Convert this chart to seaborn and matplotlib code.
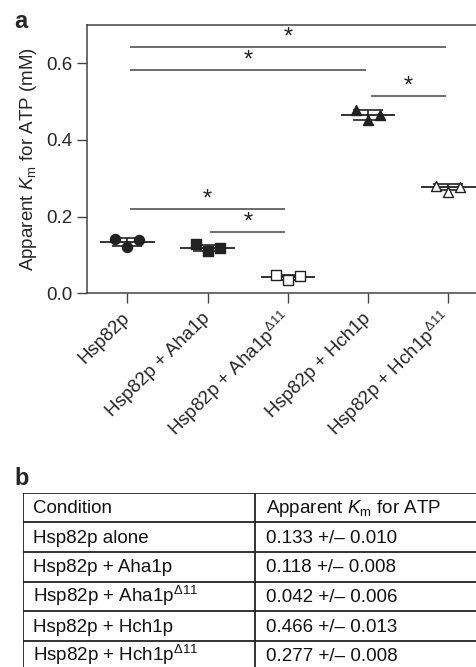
import numpy as np
import pandas as pd
import matplotlib
matplotlib.use("Agg")
import matplotlib.pyplot as plt
import seaborn as sns

# %% data
conditions = [
    "Hsp82p",
    "Hsp82p + Aha1p",
    "Hsp82p + Aha1p$^{\\Delta11}$",
    "Hsp82p + Hch1p",
    "Hsp82p + Hch1p$^{\\Delta11}$",
]
rep1 = [0.141, 0.128, 0.047, 0.478, 0.281]
rep2 = [0.122, 0.111, 0.035, 0.452, 0.265]
rep3 = [0.139, 0.117, 0.045, 0.464, 0.278]
km_mean = [0.133, 0.118, 0.042, 0.466, 0.277]
km_err = [0.010, 0.008, 0.006, 0.013, 0.008]

table_conditions = [
    "Hsp82p alone",
    "Hsp82p + Aha1p",
    "Hsp82p + Aha1p$^{\\Delta11}$",
    "Hsp82p + Hch1p",
    "Hsp82p + Hch1p$^{\\Delta11}$",
]

sig_pairs = [(0, 4), (0, 3), (3, 4), (0, 2), (1, 2)]
sig_heights = [0.642, 0.583, 0.514, 0.220, 0.161]

markers = ["o", "s", "s", "^", "^"]
filled = [True, True, False, True, False]

# %% style
sns.set_style("ticks")
plt.rcParams["font.family"] = ["Liberation Sans", "DejaVu Sans"]
plt.rcParams["mathtext.fontset"] = "custom"
plt.rcParams["mathtext.rm"] = "Liberation Sans"
plt.rcParams["mathtext.it"] = "Liberation Sans:italic"
plt.rcParams["mathtext.bf"] = "Liberation Sans:bold"

dark = "#222222"
line_c = "#444444"
fs = 13.5

W, H = 476, 667
fig = plt.figure(figsize=(W / 100, H / 100), dpi=100)

# %% panel a
ax = fig.add_axes([87.3 / W, 1 - 293.3 / H, 401.2 / W, 268.3 / H])

offsets = [-0.15, 0.0, 0.15]
rows = []
for i, cond in enumerate(conditions):
    for k, vals in enumerate([rep1, rep2, rep3]):
        rows.append(dict(cond=cond, idx=i, rep=k, x=i + offsets[k], km=vals[i]))
df = pd.DataFrame(rows)

for i, cond in enumerate(conditions):
    sub = df[df.cond == cond]
    sns.scatterplot(
        data=sub, x="x", y="km", marker=markers[i], s=52,
        color=dark if filled[i] else "white",
        edgecolor=dark, linewidth=1.0, ax=ax, zorder=3, legend=False,
    )

xs = np.arange(len(conditions))
ax.hlines(km_mean, xs - 0.34, xs + 0.34, color=dark, lw=1.3, zorder=2)
ax.errorbar(xs, km_mean, yerr=km_err, fmt="none", ecolor=dark,
            elinewidth=1.2, capsize=11, capthick=1.2, zorder=2)

for (lo, hi), h in zip(sig_pairs, sig_heights):
    ax.hlines(h, lo + 0.03, hi - 0.03, color=line_c, lw=1.1)
    ax.text((lo + hi) / 2, h - 0.004, "*", ha="center", va="bottom",
            fontsize=17, color=dark)

ax.set_xlim(-0.5, 4.5)
ax.set_ylim(0, 0.7)
ax.set_yticks([0, 0.2, 0.4, 0.6])
ax.set_yticklabels(["0.0", "0.2", "0.4", "0.6"])
ax.set_xticks(xs)
ax.set_xticklabels(conditions, rotation=45, ha="right", va="center",
                   rotation_mode="anchor")
ax.tick_params(axis="both", labelsize=fs, length=7, width=1, color=line_c,
               direction="out", pad=4)
ax.tick_params(axis="x", pad=9)
ax.set_xlabel("")
ax.set_ylabel("Apparent $K_\\mathrm{m}$ for ATP (mM)", fontsize=fs,
              labelpad=5)
for s in ["top", "left", "bottom", "right"]:
    ax.spines[s].set_color(line_c)
    ax.spines[s].set_linewidth(1.1)

fig.text(14 / W, 1 - 28 / H, "a", fontsize=17, fontweight="bold",
         ha="left", va="baseline")
fig.text(14 / W, 1 - 485 / H, "b", fontsize=17, fontweight="bold",
         ha="left", va="baseline")

# %% panel b : table
top_px, row_h = 492.7, 29.6
n_rows = len(table_conditions) + 1
bot_px = top_px + n_rows * row_h
tax = fig.add_axes([22.7 / W, 1 - bot_px / H, (490 - 22.7) / W,
                    (bot_px - top_px) / H])
tax.set_xlim(22.7, 490)
tax.set_ylim(bot_px, top_px)
tax.axis("off")

col_x = [22.7, 255.3]
for r in range(n_rows + 1):
    tax.hlines(top_px + r * row_h, 22.7, 490, color=dark, lw=1.3)
for cx in col_x:
    tax.vlines(cx, top_px, bot_px, color=dark, lw=1.3)

header = ["Condition", "Apparent $K_\\mathrm{m}$ for ATP"]
cells = [header] + [
    [c, f"{m:.3f} +/\u2013 {e:.3f}"]
    for c, m, e in zip(table_conditions, km_mean, km_err)
]
for r, row in enumerate(cells):
    yb = top_px + r * row_h + 20.5
    for cx, txt in zip(col_x, row):
        tax.text(cx + 10.5, yb, txt, fontsize=fs, ha="left", va="baseline",
                 color="#111111")

fig.savefig("out.png", dpi=100)
